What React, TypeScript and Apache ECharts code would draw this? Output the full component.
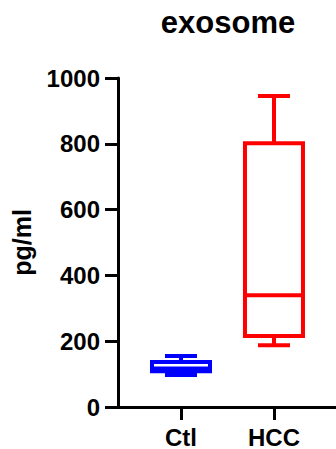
import React, { useEffect, useRef } from "react";
import * as echarts from "echarts";

const categories = ["Ctl", "HCC"];
const categoryPositions = [1, 2];
// [min, Q1, median, Q3, max] in pg/ml
const ctlValues = [97, 109, 117, 137, 155];
const hccValues = [188, 216, 340, 802, 945];
const boxColors = ["#0000FF", "#FF0000"];
const yTicks = [0, 200, 400, 600, 800, 1000];
const titleText = "exosome";
const yAxisName = "pg/ml";

const FONT = "'Liberation Sans', Arial, sans-serif";

export default function App() {
  const ref = useRef<HTMLDivElement>(null);
  useEffect(() => {
    if (!ref.current) return;
    const chart = echarts.init(ref.current, null, { renderer: "svg" });
    const boxData = [ctlValues, hccValues].map((v, i) => [categoryPositions[i], ...v]);
    const lw = 4;
    const halfBox = 29;
    const halfCap = 16;
    chart.setOption({
      animation: false,
      backgroundColor: "#fff",
      graphic: [
        {
          type: "text",
          x: 228,
          y: 22,
          style: {
            text: titleText,
            fontSize: 31,
            fontWeight: "bold",
            fontFamily: FONT,
            fill: "#000",
            align: "center",
            verticalAlign: "middle",
          },
        },
      ],
      grid: { left: 118, right: 0, top: 78, bottom: 42, containLabel: false },
      xAxis: {
        type: "value",
        min: 0.3226,
        max: 2.667,
        axisLine: { show: true, onZero: false, lineStyle: { color: "#000", width: 3 } },
        axisTick: { show: true, length: 13, lineStyle: { color: "#000", width: 3 }, customValues: categoryPositions },
        axisLabel: {
          show: true,
          customValues: categoryPositions,
          formatter: (v: number) => categories[categoryPositions.indexOf(Math.round(v))] ?? "",
          margin: 18,
          fontSize: 24,
          fontWeight: "bold",
          fontFamily: FONT,
          color: "#000",
        },
        splitLine: { show: false },
      },
      yAxis: {
        type: "value",
        min: 0,
        max: 1000,
        interval: 200,
        name: yAxisName,
        nameLocation: "middle",
        nameRotate: 90,
        nameGap: 84,
        nameTextStyle: { fontSize: 25, fontWeight: "bold", fontFamily: FONT, color: "#000" },
        axisLine: { show: true, onZero: false, lineStyle: { color: "#000", width: 3 } },
        axisTick: { show: true, length: 13, lineStyle: { color: "#000", width: 3 } },
        axisLabel: {
          margin: 18,
          fontSize: 24,
          fontWeight: "bold",
          fontFamily: FONT,
          color: "#000",
          formatter: (v: number) => String(v),
        },
        splitLine: { show: false },
      },
      series: [
        {
          type: "custom",
          data: boxData,
          encode: { x: 0, y: [1, 2, 3, 4, 5] },
          renderItem: (params: any, api: any) => {
            const x = api.value(0);
            const cx = api.coord([x, 0])[0];
            const yMin = api.coord([x, api.value(1)])[1];
            const yQ1 = api.coord([x, api.value(2)])[1];
            const yMed = api.coord([x, api.value(3)])[1];
            const yQ3 = api.coord([x, api.value(4)])[1];
            const yMax = api.coord([x, api.value(5)])[1];
            const color = boxColors[params.dataIndex];
            const st = { stroke: color, lineWidth: lw, fill: "none" };
            return {
              type: "group",
              children: [
                { type: "line", shape: { x1: cx, y1: yMax, x2: cx, y2: yQ3 }, style: st },
                { type: "line", shape: { x1: cx, y1: yQ1, x2: cx, y2: yMin }, style: st },
                { type: "line", shape: { x1: cx - halfCap, y1: yMax, x2: cx + halfCap, y2: yMax }, style: st },
                { type: "line", shape: { x1: cx - halfCap, y1: yMin, x2: cx + halfCap, y2: yMin }, style: st },
                {
                  type: "rect",
                  shape: { x: cx - halfBox, y: yQ3, width: halfBox * 2, height: yQ1 - yQ3 },
                  style: { stroke: color, lineWidth: lw, fill: "#fff" },
                },
                { type: "line", shape: { x1: cx - halfBox, y1: yMed, x2: cx + halfBox, y2: yMed }, style: st },
              ],
            };
          },
        },
      ],
    });
    return () => chart.dispose();
  }, []);
  return (
    <div
      ref={ref}
      style={{ position: "fixed", left: 0, top: 0, width: 336, height: 449, background: "#fff" }}
    />
  );
}
